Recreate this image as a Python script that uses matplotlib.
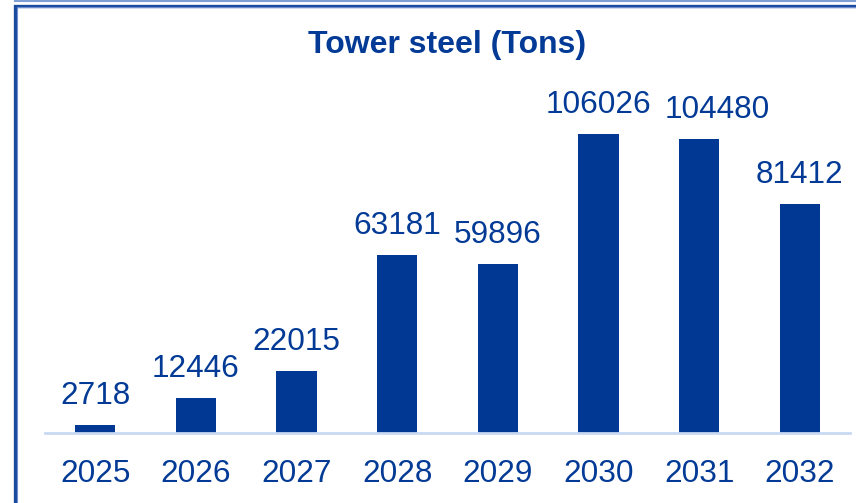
import matplotlib
matplotlib.use("Agg")
import matplotlib.pyplot as plt
from matplotlib.lines import Line2D

years = ["2025", "2026", "2027", "2028", "2029", "2030", "2031", "2032"]
tons = [2718, 12446, 22015, 63181, 59896, 106026, 104480, 81412]

BLUE = "#003894"
TEXT = "#023a96"

plt.rcParams["font.family"] = ["Liberation Sans", "DejaVu Sans"]

fig = plt.figure(figsize=(8.56, 5.03), dpi=100)
ax = fig.add_axes([45 / 856, 70 / 503, 805 / 856, 338 / 503])

x = list(range(len(years)))
ax.bar(x, tons, width=0.4, color=BLUE, zorder=2)
for xi, v in zip(x, tons):
    # the 2031 label is nudged right in the original so it doesn't collide with 2030's
    dx = 0.18 if years[xi] == "2031" else 0.0
    ax.text(xi + dx, v + 5000, str(v), ha="center", va="bottom",
            fontsize=22.7, color=TEXT, clip_on=False)

ax.set_xlim(-0.5, len(years) - 0.5)
ax.set_ylim(0, 120000)
ax.set_xticks(x)
ax.set_xticklabels(years, fontsize=22.7, color=TEXT)
ax.tick_params(axis="x", length=0, pad=19)
ax.set_yticks([])
for side in ("top", "right", "left"):
    ax.spines[side].set_visible(False)
ax.spines["bottom"].set_color("#c9d9f3")
ax.spines["bottom"].set_linewidth(2)

fig.text(447 / 856, 1 - 45 / 503, "Tower steel (Tons)", ha="center", va="center",
         fontsize=23, fontweight="bold", color=TEXT)

# slide frame (cropped): light line at top, dark double border
fig.add_artist(Line2D([15 / 856, 1], [1 - 0.8 / 503, 1 - 0.8 / 503], transform=fig.transFigure,
                      color="#7d9fd6", linewidth=1.5))
fig.add_artist(Line2D([15.5 / 856, 15.5 / 856, 1], [0, 1 - 5.5 / 503, 1 - 5.5 / 503],
                      transform=fig.transFigure, color="#1a4a9e", linewidth=2.4,
                      solid_joinstyle="miter"))
fig.add_artist(Line2D([17.2 / 856, 17.2 / 856, 1], [0, 1 - 7.2 / 503, 1 - 7.2 / 503],
                      transform=fig.transFigure, color="#6d8fcf", linewidth=0.8,
                      solid_joinstyle="miter"))

fig.savefig("out.png", dpi=100)
